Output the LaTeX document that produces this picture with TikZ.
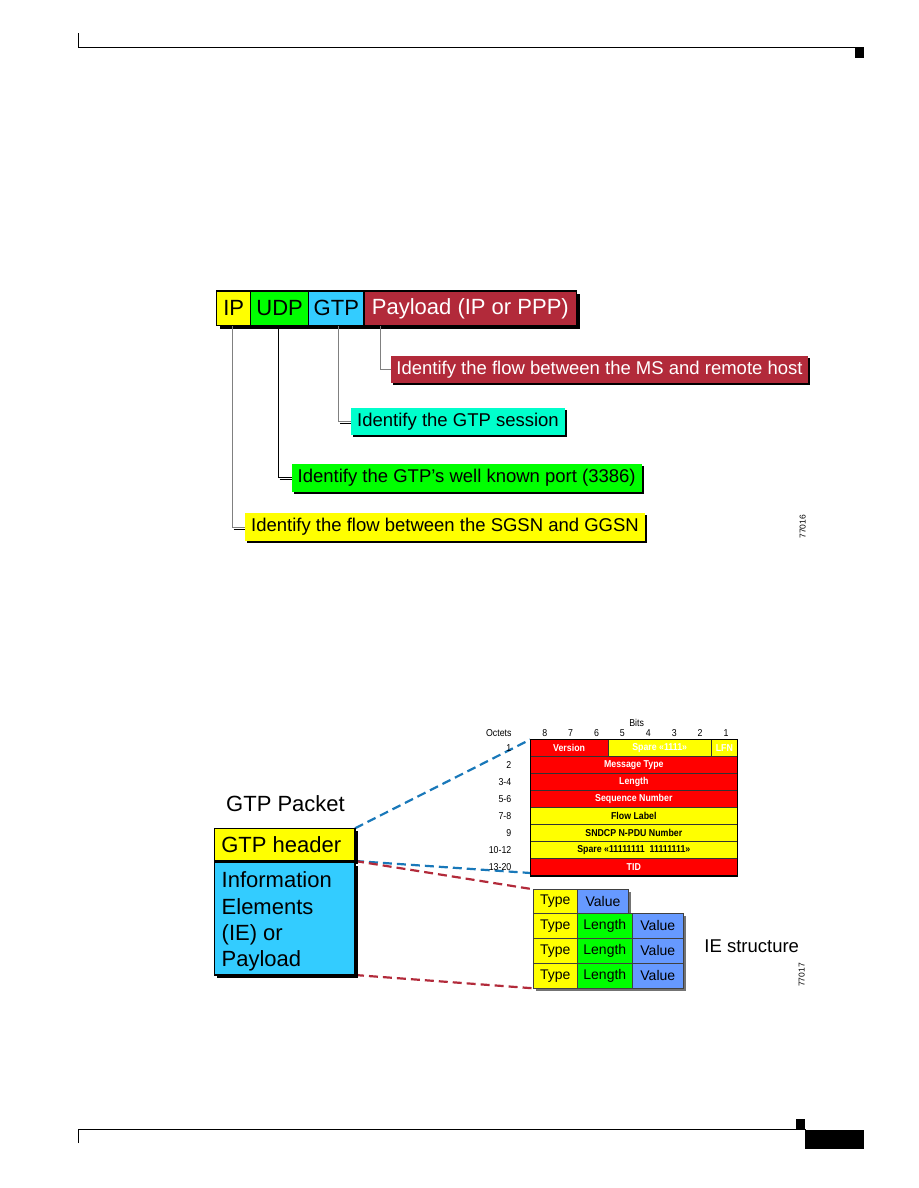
\documentclass[tikz,border=0pt]{standalone}
\usepackage{fontspec}
\setmainfont{Liberation Sans}
\newfontfamily\tabfont[FakeStretch=0.88]{Liberation Sans}
\usetikzlibrary{shadows,calc}
\definecolor{ipyel}{RGB}{255,255,0}
\definecolor{udpgreen}{RGB}{0,255,0}
\definecolor{gtpcyan}{RGB}{51,204,255}
\definecolor{payred}{RGB}{178,42,58}
\definecolor{lcyan}{RGB}{0,255,204}
\definecolor{tabred}{RGB}{255,0,0}
\definecolor{valblue}{RGB}{102,153,255}
\definecolor{dblue}{RGB}{25,120,185}
\pgfdeclarelayer{bg}
\pgfsetlayers{bg,main}
\tikzset{
  every node/.style={outer sep=0pt},
  topbox/.style={draw=black, line width=1.2pt, minimum height=34.7pt, inner sep=0pt, anchor=north west,
    font=\fontsize{22}{26}\selectfont},
  lbl/.style={draw=none, minimum height=27.7pt, inner sep=0pt, anchor=north west,
    font=\fontsize{18.5}{22}\selectfont,
    drop shadow={shadow xshift=2pt, shadow yshift=-2pt, opacity=1, fill=black}},
  conn/.style={draw=#1, line width=1pt},
  connshadow/.style={draw=black, line width=0.8pt},
  bigbox/.style={draw=black, line width=1.2pt, inner sep=0pt, anchor=north west,
    drop shadow={shadow xshift=3pt, shadow yshift=-3pt, opacity=1, fill=black}},
  bigtext/.style={inner sep=0pt, anchor=north west, align=left, font=\fontsize{22}{26.3}\selectfont},
  cell/.style={draw=black!80, line width=0.5pt, minimum height=17pt, inner sep=0pt, anchor=north west,
    font=\tabfont\bfseries\fontsize{10}{12}\selectfont},
  octlbl/.style={inner sep=0pt, anchor=east, font=\tabfont\fontsize{10}{12}\selectfont},
  bitlbl/.style={inner sep=0pt, font=\tabfont\fontsize{10}{12}\selectfont},
  iecell/.style={draw=black!75, line width=0.6pt, minimum height=25pt, inner sep=0pt, anchor=north west,
    font=\fontsize{14}{16}\selectfont,
    drop shadow={shadow xshift=2.5pt, shadow yshift=-2.5pt, opacity=1, fill=black!55}},
  dashblue/.style={draw=dblue, line width=2.2pt, dash pattern=on 9pt off 5pt},
  dashred/.style={draw=payred, line width=2.2pt, dash pattern=on 9pt off 5pt},
  figno/.style={inner sep=0pt, rotate=90, font=\fontsize{8.5}{10}\selectfont}
}
\begin{document}
\begin{tikzpicture}[x=1pt,y=-1pt]
\useasboundingbox (0,0) rectangle (918,1188);

% page header and footer marks
\draw[line width=1pt] (78,33.5) -- (78,47.5) -- (858,47.5);
\fill[black] (855,47.5) rectangle (864,58);
\draw[line width=1pt] (78,1143) -- (78,1129.5) -- (806,1129.5);
\fill[black] (796,1119) rectangle (805,1129.5);
\fill[black] (805,1129.5) rectangle (864,1148.5);

% ---------- top diagram ----------
\node[topbox, fill=ipyel, minimum width=34pt] (ip) at (216.7,291) {IP};
\node[topbox, fill=udpgreen, minimum width=58pt] (udp) at (ip.north east) {UDP};
\node[topbox, fill=gtpcyan, minimum width=55.3pt] (gtp) at (udp.north east) {GTP};
\node[topbox, fill=payred, text=white, minimum width=212.7pt] (pay) at (gtp.north east) {Payload (IP or PPP)};

\node[lbl, fill=payred, text=white, minimum width=417.6pt] (lpay) at (390.7,355.7) {Identify the flow between the MS and remote host};
\node[lbl, fill=lcyan, minimum width=214pt] (lgtp) at (351,407.7) {Identify the GTP session};
\node[lbl, fill=udpgreen, minimum width=350pt] (ludp) at (291.7,464) {Identify the GTP’s well known port (3386)};
\node[lbl, fill=ipyel, minimum width=400pt] (lip) at (245,513.3) {Identify the flow between the SGSN and GGSN};

\begin{pgfonlayer}{bg}
\fill[black] ($(ip.north west)+(3,3)$) rectangle ($(pay.south east)+(3,3)$);
\draw[connshadow] ($(lip.west -| ip.south)+(0,1.8)$) -- ($(lip.west)+(0,1.8)$);
\draw[connshadow] ($(ludp.west -| udp.south)+(0,1.8)$) -- ($(ludp.west)+(0,1.8)$);
\draw[connshadow] ($(lgtp.west -| gtp.south)+(4,1.8)$) -- ($(lgtp.west)+(0,1.8)$);
\draw[conn=gray] ([xshift=-1.2]ip.south) |- (lip.west);
\draw[conn=black] ([xshift=-1.3]udp.south) |- (ludp.west);
\draw[conn=gray] ([xshift=2]gtp.south) |- (lgtp.west);
\draw[conn=gray] ([xshift=16]pay.south west) |- (lpay.west);
\end{pgfonlayer}

\node[figno] (fig1) at (802.7,526.7) {77016};

% ---------- bottom diagram ----------
\node[inner sep=0pt, font=\fontsize{22}{26}\selectfont] (pkt) at (285.5,804) {GTP Packet};
\node[bigbox, fill=ipyel, minimum width=140.7pt, minimum height=32.7pt] (gtph) at (214.3,828.3) {};
\node[inner sep=0pt, anchor=west, font=\fontsize{22}{26}\selectfont] (gtphtext) at ([xshift=7]gtph.west) {GTP header};
\node[bigbox, fill=gtpcyan, minimum width=140.7pt, minimum height=112.3pt] (ie) at (214.3,862.7) {};
\node[bigtext] (ietext) at ($(ie.north west)+(7.4,9.2)$) {Information\\Elements\\(IE) or\\Payload};

% GTP header table
\node[cell, fill=tabred, text=white, minimum width=77.6pt] (ver) at (530.3,739.5) {Version};
\node[cell, fill=ipyel, text=white, minimum width=103.5pt] (spare) at (ver.north east) {Spare «1111»};
\node[cell, fill=ipyel, text=white, minimum width=25.9pt] (lfn) at (spare.north east) {LFN};
\node[cell, fill=tabred, text=white, minimum width=207pt] (mt) at (530.3,756.5) {Message Type};
\node[cell, fill=tabred, text=white, minimum width=207pt] (len) at (530.3,773.5) {Length};
\node[cell, fill=tabred, text=white, minimum width=207pt] (seq) at (530.3,790.5) {Sequence Number};
\node[cell, fill=ipyel, minimum width=207pt] (flow) at (530.3,807.5) {Flow Label};
\node[cell, fill=ipyel, minimum width=207pt] (sndcp) at (530.3,824.5) {SNDCP N-PDU Number};
\node[cell, fill=ipyel, minimum width=207pt] (spare2) at (530.3,841.5) {Spare «11111111\ \ 11111111»};
\node[cell, fill=tabred, text=white, minimum width=207pt, minimum height=17.5pt] (tid) at (530.3,858.5) {TID};
\draw[line width=1.4pt] (ver.north west) rectangle (tid.south east);

\node[octlbl] (o1) at ([xshift=-19]ver.west) {1};
\node[octlbl] (o2) at ([xshift=-19]mt.west) {2};
\node[octlbl] (o3) at ([xshift=-19]len.west) {3-4};
\node[octlbl] (o4) at ([xshift=-19]seq.west) {5-6};
\node[octlbl] (o5) at ([xshift=-19]flow.west) {7-8};
\node[octlbl] (o6) at ([xshift=-19]sndcp.west) {9};
\node[octlbl] (o7) at ([xshift=-19]spare2.west) {10-12};
\node[octlbl] (o8) at ([xshift=-19]tid.west) {13-20};
\node[octlbl] (oct) at (511.5,733) {Octets};
\node[bitlbl] (bits) at (636.7,723.3) {Bits};
\node[bitlbl] (b8) at (544.7,733) {8};
\node[bitlbl] (b7) at (570.6,733) {7};
\node[bitlbl] (b6) at (596.5,733) {6};
\node[bitlbl] (b5) at (622.4,733) {5};
\node[bitlbl] (b4) at (648.3,733) {4};
\node[bitlbl] (b3) at (674.2,733) {3};
\node[bitlbl] (b2) at (700.1,733) {2};
\node[bitlbl] (b1) at (726.0,733) {1};

% IE structure table
\node[iecell, fill=ipyel, minimum width=44pt, minimum height=24pt] (t1) at (533.3,889.3) {Type};
\node[iecell, fill=valblue, minimum width=51.4pt, minimum height=24pt] (v1) at (t1.north east) {Value};
\node[iecell, fill=ipyel, minimum width=44pt] (t2) at (533.3,913.3) {Type};
\node[iecell, fill=udpgreen, minimum width=55pt] (l2) at (t2.north east) {Length};
\node[iecell, fill=valblue, minimum width=51pt] (v2) at (l2.north east) {Value};
\node[iecell, fill=ipyel, minimum width=44pt] (t3) at (533.3,938.3) {Type};
\node[iecell, fill=udpgreen, minimum width=55pt] (l3) at (t3.north east) {Length};
\node[iecell, fill=valblue, minimum width=51pt] (v3) at (l3.north east) {Value};
\node[iecell, fill=ipyel, minimum width=44pt] (t4) at (533.3,963.3) {Type};
\node[iecell, fill=udpgreen, minimum width=55pt] (l4) at (t4.north east) {Length};
\node[iecell, fill=valblue, minimum width=51pt] (v4) at (l4.north east) {Value};

\node[inner sep=0pt, font=\fontsize{18.5}{22}\selectfont] (iestr) at (751.7,946) {IE structure};
\node[figno] (fig2) at (801.7,975) {77017};

\begin{pgfonlayer}{bg}
\draw[dashblue] (gtph.north east) -- (ver.north west);
\draw[dashblue] (gtph.south east) -- ([yshift=3]tid.south west);
\draw[dashred] (gtph.south east) -- (t1.north west);
\draw[dashred] (ie.south east) -- (t4.south west);
\end{pgfonlayer}
\end{tikzpicture}
\end{document}
